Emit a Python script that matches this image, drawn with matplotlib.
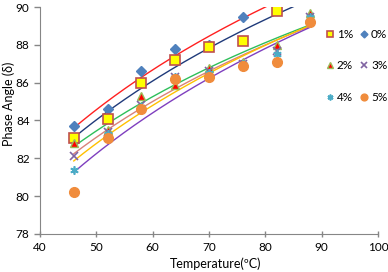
import numpy as np
import matplotlib
matplotlib.use("Agg")
import matplotlib.pyplot as plt
from matplotlib.lines import Line2D

temps_a = [46, 52, 58, 64, 70, 76]
temps_b = [46, 52, 58, 64, 70, 76, 82]
temps_c = [46, 52, 58, 64, 70, 76, 82, 88]

pa_0 = [83.7, 84.6, 86.6, 87.8, 88.0, 89.5]
pa_1 = [83.1, 84.1, 86.0, 87.2, 87.9, 88.2, 89.8]
pa_2 = [82.8, 83.5, 85.3, 85.9, 86.8, 87.1, 88.0, 89.7]
pa_3 = [82.1, 83.4, 84.8, 86.3, 86.6, 87.0, 87.7, 89.5]
pa_4 = [81.4, 83.3, 84.7, 86.3, 86.5, 87.0, 87.5, 89.5]
pa_5 = [80.2, 83.1, 84.6, 86.2, 86.3, 86.9, 87.1, 89.2]

plt.rcParams['font.family'] = ['Lato', 'DejaVu Sans']

series = [
    ("0%", temps_a, pa_0, dict(marker="D", ms=5, mfc="#4F81BD", mec="#4F81BD"), "#FF2020"),
    ("1%", temps_b, pa_1, dict(marker="s", ms=7, mfc="#FFFF00", mec="#C0504D", mew=1.2), "#1F3A7A"),
    ("2%", temps_c, pa_2, dict(marker="^", ms=6, mfc="#FF0000", mec="#9BBB59", mew=1.0), "#2EBF5A"),
    ("3%", temps_c, pa_3, dict(marker="x", ms=6, mfc="none", mec="#8064A2", mew=1.2), "#D9827A"),
    ("4%", temps_c, pa_4, dict(marker=(6, 2, 0), ms=6, mfc="none", mec="#4BACC6", mew=1.2), "#FFC000"),
    ("5%", temps_c, pa_5, dict(marker="o", ms=7, mfc="#F08C3C", mec="#F08C3C"), "#7F3FBF"),
]

fig = plt.figure(figsize=(3.88, 2.72), dpi=100)
ax = fig.add_axes([0.103, 0.140, 0.871, 0.834])

handles = {}
for name, xs, ys, mk, lc in series:
    xs = np.array(xs, float); ys = np.array(ys, float)
    b, a = np.polyfit(np.log(xs), ys, 1)
    xf = np.linspace(46, 88, 200)
    ax.plot(xf, a + b * np.log(xf), color=lc, lw=1.0, zorder=2)
    ax.plot(xs, ys, ls="none", zorder=3, **mk)
    handles[name] = Line2D([], [], ls="none", **{**mk, "ms": mk["ms"] * 0.7})

order = ["1%", "2%", "4%", "0%", "3%", "5%"]
ax.legend([handles[k] for k in order], order, ncol=2, loc="upper left",
          bbox_to_anchor=(0.83, 0.925), frameon=False, fontsize=8.5,
          handlelength=0.8, handletextpad=0.2, columnspacing=0.5,
          labelspacing=1.75, borderaxespad=0)

ax.set_xlim(40, 100)
ax.set_ylim(78, 90)
ax.set_xticks(range(40, 101, 10))
ax.set_yticks(range(78, 91, 2))
for s in ["top", "right"]:
    ax.spines[s].set_visible(False)
for s in ["left", "bottom"]:
    ax.spines[s].set_color("#868686")
ax.tick_params(axis="both", colors="#868686", labelcolor="black", labelsize=8.5, length=4, width=1)
ax.tick_params(axis="x", direction="inout")
ax.set_xlabel("Temperature(ºC)", fontsize=9)
ax.set_ylabel("Phase Angle (δ)", fontsize=9)
ax.xaxis.set_label_coords(0.52, -0.105)
ax.yaxis.set_label_coords(-0.075, 0.573)

fig.savefig("out.png", dpi=100)
